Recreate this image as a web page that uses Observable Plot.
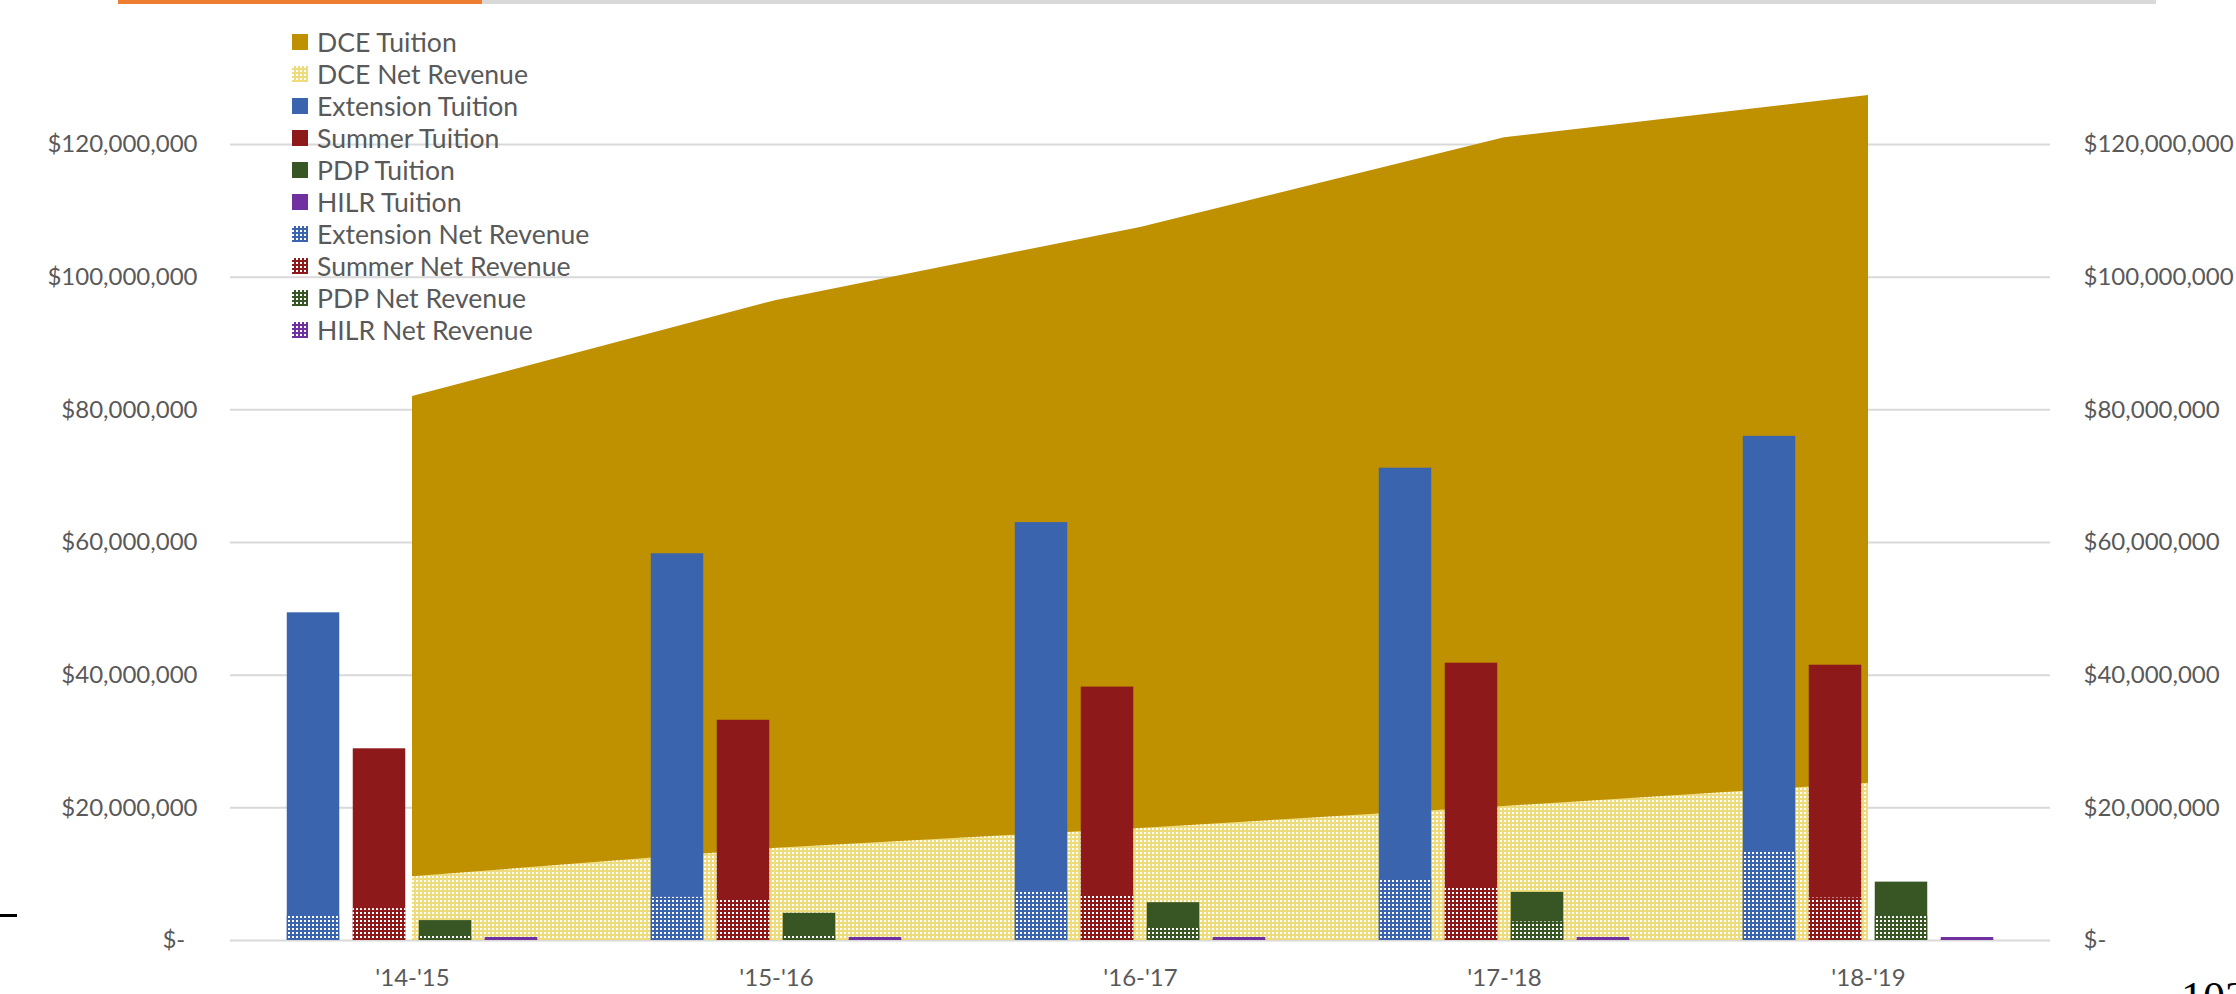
<!DOCTYPE html>
<html>
<head>
<meta charset="utf-8">
<script src="https://cdn.jsdelivr.net/npm/d3@7"></script>
<script src="https://cdn.jsdelivr.net/npm/@observablehq/plot@0.6"></script>
<style>
  html, body { margin: 0; padding: 0; background: #fff; }
  #wrap { position: relative; width: 2236px; height: 994px; overflow: hidden; font-family: Lato, "Open Sans", sans-serif; }
  #chart { position: absolute; left: 0; top: 0; }
  #legend { position: absolute; left: 292px; top: 26px; }
  .entry { display: flex; align-items: center; height: 32px; color: #595959; font-size: 26.6px; white-space: nowrap; }
  .entry svg { margin-right: 9px; flex: none; }
  .bar { position: absolute; top: 0; height: 4px; }
  #dash { position: absolute; left: 0; top: 914px; width: 17px; height: 3px; background: #000; }
  #page { position: absolute; left: 2181px; top: 976px; font-family: "Liberation Serif", "DejaVu Serif", serif; font-size: 44px; line-height: 1; color: #000; }
</style>
</head>
<body>
<div id="wrap">
  <svg id="defs" width="0" height="0" style="position:absolute"><defs></defs></svg>
  <div class="bar" style="left:118px;width:364px;background:#ed7d31"></div>
  <div class="bar" style="left:482px;width:1674px;background:#d9d9d9"></div>
  <div id="chart"></div>
  <div id="legend"></div>
  <div id="dash"></div>
  <div id="page">102</div>
</div>
<script>
// ---- data (values in millions of dollars) ----
const years = ["'14-'15", "'15-'16", "'16-'17", "'17-'18", "'18-'19"];
const dceTuition = [82.0, 96.5, 107.5, 121.0, 127.4];
const dceNet = [9.6, 13.9, 16.9, 20.2, 23.7];
const extensionTuition = [49.4, 58.3, 63.0, 71.2, 76.0];
const extensionNet = [3.7, 6.5, 7.5, 9.3, 13.3];
const summerTuition = [28.9, 33.2, 38.2, 41.8, 41.5];
const summerNet = [4.8, 6.1, 6.8, 7.9, 6.4];
const pdpTuition = [3.0, 4.1, 5.7, 7.25, 8.8];
const pdpNet = [0.66, 0.75, 1.9, 2.8, 3.6];
const hilrTuition = [0.45, 0.45, 0.45, 0.45, 0.45];
const hilrNet = [0.12, 0.12, 0.12, 0.12, 0.12];
const yTickValues = [0, 20, 40, 60, 80, 100, 120];
const legendLabels = ["DCE Tuition", "DCE Net Revenue", "Extension Tuition", "Summer Tuition", "PDP Tuition", "HILR Tuition",
  "Extension Net Revenue", "Summer Net Revenue", "PDP Net Revenue", "HILR Net Revenue"];

// ---- styles ----
const M = 1e6;
const colors = { dce: "#bf9000", dceNet: "#eedb7c", extension: "#3a65ae", summer: "#8e191b", pdp: "#375623", hilr: "#7030a0" };

// hatched patterns (Excel "dotted grid" look)
const defs = d3.select("#defs defs");
function makePattern(id, base) {
  const p = defs.append("pattern").attr("id", id).attr("width", 4).attr("height", 4).attr("patternUnits", "userSpaceOnUse");
  p.append("rect").attr("width", 4).attr("height", 4).attr("fill", base);
  p.append("rect").attr("width", 2).attr("height", 2).attr("fill", "#fff");
  return `url(#${id})`;
}
const patterns = {
  dceNet: makePattern("pat-dce", colors.dceNet),
  extension: makePattern("pat-ext", colors.extension),
  summer: makePattern("pat-sum", colors.summer),
  pdp: makePattern("pat-pdp", colors.pdp),
  hilr: makePattern("pat-hilr", colors.hilr)
};

// ---- tables built from the arrays ----
const dceTable = years.map((y, i) => ({ i, tuition: dceTuition[i] * M, net: dceNet[i] * M }));
const barSeries = [
  { key: "extension", tuition: extensionTuition, net: extensionNet },
  { key: "summer", tuition: summerTuition, net: summerNet },
  { key: "pdp", tuition: pdpTuition, net: pdpNet },
  { key: "hilr", tuition: hilrTuition, net: hilrNet }
];
const slotStep = 0.1813, barWidth = 0.1442; // fraction of a category band
function barTable(s, k) {
  return years.map((y, i) => {
    const c = i + (k - (barSeries.length - 1) / 2) * slotStep;
    return { x1: c - barWidth / 2, x2: c + barWidth / 2, tuition: s.tuition[i] * M, net: s.net[i] * M };
  });
}

const marks = [
  Plot.ruleY(yTickValues.map(v => v * M), { stroke: "#d9d9d9", strokeWidth: 2 }),
  Plot.areaY(dceTable, { x: "i", y1: 0, y2: "tuition", fill: colors.dce }),
  Plot.areaY(dceTable, { x: "i", y1: 0, y2: "net", fill: patterns.dceNet })
];
barSeries.forEach((s, k) => {
  const t = barTable(s, k);
  marks.push(Plot.rect(t, { x1: "x1", x2: "x2", y1: 0, y2: "tuition", fill: colors[s.key] }));
  marks.push(Plot.rect(t, { x1: "x1", x2: "x2", y1: 0, y2: "net", fill: patterns[s.key] }));
});

const fmt = d3.format(",");
const chart = Plot.plot({
  width: 2236,
  height: 994,
  marginLeft: 230,
  marginRight: 186,
  marginTop: 144,
  marginBottom: 54,
  style: { fontFamily: "Lato, 'Open Sans', sans-serif", fontSize: "24px", color: "#595959", background: "transparent", overflow: "visible" },
  x: {
    type: "linear",
    domain: [-0.5, years.length - 0.5],
    ticks: years.map((y, i) => i),
    tickFormat: i => years[i],
    tickSize: 0,
    tickPadding: 28,
    label: null
  },
  y: {
    domain: [0, 120 * M],
    ticks: yTickValues.map(v => v * M),
    tickFormat: d => d === 0 ? "$-\u00a0\u00a0" : "$" + fmt(d),
    tickSize: 0,
    tickPadding: 33,
    axis: "both",
    label: null
  },
  marks
});
document.getElementById("chart").appendChild(chart);

// ---- legend ----
const legendFills = [colors.dce, patterns.dceNet, colors.extension, colors.summer, colors.pdp, colors.hilr,
  patterns.extension, patterns.summer, patterns.pdp, patterns.hilr];
const legend = d3.select("#legend");
legendLabels.forEach((label, k) => {
  const row = legend.append("div").attr("class", "entry");
  row.append("svg").attr("width", 16).attr("height", 16)
    .append("rect").attr("width", 16).attr("height", 16).attr("fill", legendFills[k]);
  row.append("span").text(label);
});
</script>
</body>
</html>
